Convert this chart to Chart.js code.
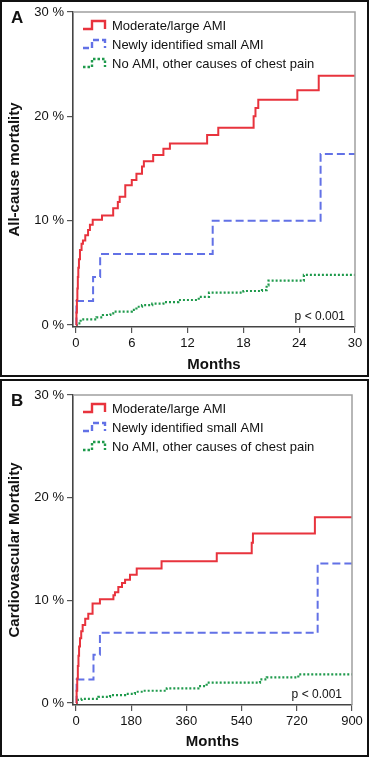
<!DOCTYPE html>
<html><head><meta charset="utf-8">
<script src="https://cdn.jsdelivr.net/npm/chart.js@4.4.1/dist/chart.umd.min.js"></script>
<style>
html,body{margin:0;padding:0;background:#fff;width:370px;height:757px;overflow:hidden}
.frame{position:absolute;border:2px solid #111;box-sizing:border-box}
.cv{position:absolute;left:0;width:370px;height:378px}
</style></head><body>
<div class="frame" style="left:0;top:0;width:369px;height:377px"></div>
<div class="frame" style="left:0;top:379px;width:369px;height:378px"></div>
<div class="cv" style="top:0"><canvas id="cA" width="370" height="378"></canvas></div>
<div class="cv" style="top:379px"><canvas id="cB" width="370" height="378"></canvas></div>
<script>
// ---------- DATA ----------
const seriesNames = ["Moderate/large AMI", "Newly identified small AMI", "No AMI, other causes of chest pain"];

// Panel A: all-cause mortality, time in months, cumulative %
const aRedT   = [0,0.05,0.1,0.15,0.2,0.25,0.32,0.43,0.6,0.75,1.0,1.3,1.5,1.8,2.8,4.0,4.5,4.7,5.3,6.0,6.5,7.1,7.3,8.3,9.4,10.1,14.1,15.3,19.1,19.3,19.6,23.8,26.1,30];
const aRedV   = [0,1.2,2.4,3.5,4.6,5.5,6.3,7.2,7.8,8.1,8.6,9.1,9.6,10.1,10.5,11.2,11.8,12.3,13.4,13.9,14.5,15.2,15.7,16.3,16.9,17.4,18.2,18.9,20.0,20.8,21.6,22.5,23.9,23.9];
const aBlueT  = [0,0.05,1.84,2.6,14.7,26.3,30];
const aBlueV  = [0,2.3,4.6,6.8,10.0,16.4,16.4];
const aGreenT = [0,0.1,0.5,2.2,2.9,3.7,4.0,6.0,6.5,7.1,8.2,9.4,11.0,13.2,14.3,18.0,20.0,20.5,20.7,24.5,30];
const aGreenV = [0,0.15,0.55,0.74,0.96,1.12,1.28,1.45,1.75,1.9,2.05,2.2,2.4,2.7,3.1,3.26,3.35,3.8,4.25,4.8,4.8];
const aXTicks = [0,6,12,18,24,30];

// Panel B: cardiovascular mortality, time axis 0-900
const bRedT   = [0,2,4,6,8,10,13,17,21.7,30,40,54,78,122,127,138,150,160,176,198,279,459,573,577,779,900];
const bRedV   = [0,1.2,2.4,3.6,4.6,5.5,6.3,7.0,7.6,8.2,8.7,9.7,10.1,10.5,10.8,11.3,11.7,12.0,12.5,13.1,13.8,14.6,15.6,16.5,18.1,18.1];
const bBlueT  = [0,2,57,78,788,900];
const bBlueV  = [0,2.3,4.7,6.85,13.6,13.6];
const bGreenT = [0,3,18,73,111,160,192,219,296,399,426,600,622,725,900];
const bGreenV = [0,0.3,0.4,0.6,0.78,0.9,1.1,1.2,1.43,1.65,1.98,2.3,2.5,2.8,2.8];
const bXTicks = [0,180,360,540,720,900];

const yTicks = [0,10,20,30];

// ---------- STYLE ----------
const FONT = "'Liberation Sans', Arial, Helvetica, sans-serif";
const colors = ['#e8333d', '#6271e6', '#1f9a4c'];
const widths = [2, 2, 2.2];
const dashes = [[], [8,4], [2,2]];
const TXT = '#111';

function pts(t, v){ return t.map((x,i)=>({x:x, y:v[i]})); }

function makePlugin(letter){
  return {
    id:'deco',
    afterDatasetsDraw(chart){
      const {ctx, chartArea:a} = chart;
      ctx.save();
      // top/right frame
      ctx.strokeStyle = '#a0a0a0'; ctx.lineWidth = 1.5; ctx.setLineDash([]);
      ctx.beginPath(); ctx.moveTo(a.left, a.top); ctx.lineTo(a.right, a.top); ctx.lineTo(a.right, a.bottom); ctx.stroke();
      // legend
      const rows = [13, 32, 51];
      for (let i=0;i<3;i++){
        const y = a.top + rows[i];
        const x0 = a.left + 10;
        ctx.strokeStyle = colors[i]; ctx.lineWidth = 2.4; ctx.setLineDash(i===1?[6,3]:(i===2?[2.5,2]:[]));
        ctx.beginPath();
        ctx.moveTo(x0, y+4); ctx.lineTo(x0+9, y+4); ctx.lineTo(x0+9, y-4); ctx.lineTo(x0+22, y-4); ctx.lineTo(x0+22, y+4);
        ctx.stroke();
        ctx.setLineDash([]);
        ctx.fillStyle = TXT; ctx.font = "13px " + FONT; ctx.textBaseline = 'middle'; ctx.textAlign = 'left';
        ctx.fillText(seriesNames[i], x0 + 29, y + 1);
      }
      // p value
      ctx.font = "12px " + FONT; ctx.textAlign = 'right'; ctx.textBaseline='middle'; ctx.fillStyle = TXT;
      ctx.fillText('p < 0.001', a.right - 10, a.bottom - 10);
      // panel letter
      ctx.font = "bold 17px " + FONT; ctx.textAlign = 'left'; ctx.textBaseline='middle';
      ctx.fillText(letter, 11, a.top + 6);
      ctx.restore();
    }
  };
}

function makeChart(id, cfg){
  const ds = cfg.series.map((s,i)=>({
    label: seriesNames[i],
    data: pts(s[0], s[1]),
    stepped: true,
    borderColor: colors[i],
    borderWidth: widths[i],
    borderDash: dashes[i],
    pointRadius: 0,
    fill: false
  }));
  return new Chart(document.getElementById(id), {
    type: 'line',
    data: { datasets: ds },
    options: {
      responsive: false,
      animation: false,
      events: [],
      layout: { padding: { top: cfg.top, right: cfg.right, bottom: cfg.bottom, left: 0 } },
      plugins: { legend: { display: false }, tooltip: { enabled: false } },
      scales: {
        x: {
          type: 'linear', min: cfg.xMin, max: cfg.xMax,
          afterBuildTicks: s => { s.ticks = cfg.xTicks.map(v => ({value: v})); },
          afterFit: s => { s.height = cfg.xH; },
          ticks: { font: { family: FONT, size: 13 }, color: TXT, padding: 3, maxRotation: 0, autoSkip: false },
          grid: { drawOnChartArea: false, drawTicks: true, tickLength: 6, color: '#555', lineWidth: 1.2 },
          border: { display: true, color: '#444', width: 1.6 },
          title: { display: true, text: 'Months', color: TXT, font: { family: FONT, size: 15, weight: 'bold' }, padding: { top: 4, bottom: 4 } }
        },
        y: {
          type: 'linear', min: -0.19, max: 30,
          afterBuildTicks: s => { s.ticks = yTicks.map(v => ({value: v})); },
          afterFit: s => { s.width = 73; },
          ticks: { font: { family: FONT, size: 13 }, color: TXT, padding: 3, callback: v => v + ' %' },
          grid: { drawOnChartArea: false, drawTicks: true, tickLength: 6, color: '#555', lineWidth: 1.2 },
          border: { display: true, color: '#444', width: 1.6 },
          title: { display: true, text: cfg.yTitle, color: TXT, font: { family: FONT, size: 15, weight: 'bold' }, padding: { top: 6, bottom: 4 } }
        }
      }
    },
    plugins: [makePlugin(cfg.letter)]
  });
}

makeChart('cA', {
  letter: 'A', yTitle: 'All-cause mortality',
  series: [[aRedT, aRedV], [aBlueT, aBlueV], [aGreenT, aGreenV]],
  xMin: -0.32, xMax: 30, xTicks: aXTicks,
  top: 12, right: 15, bottom: 0, xH: 51
});
makeChart('cB', {
  letter: 'B', yTitle: 'Cardiovascular Mortality',
  series: [[bRedT, bRedV], [bBlueT, bBlueV], [bGreenT, bGreenV]],
  xMin: -9.8, xMax: 900, xTicks: bXTicks,
  top: 16, right: 18, bottom: 2, xH: 50
});
</script>
</body></html>
